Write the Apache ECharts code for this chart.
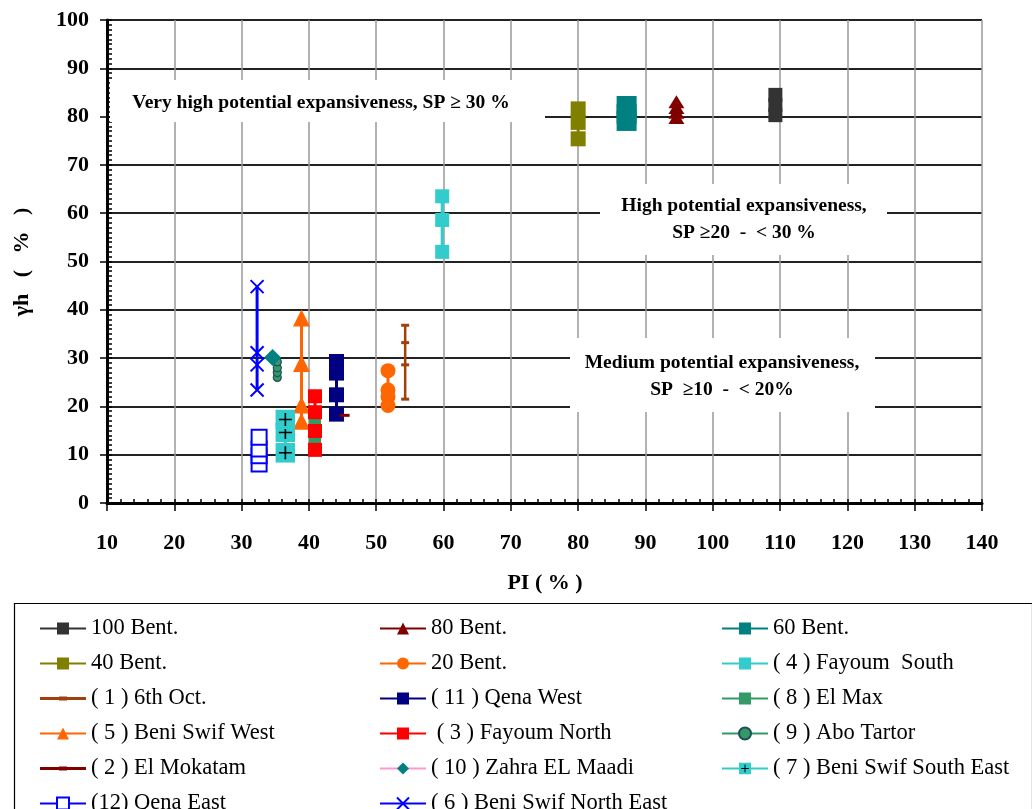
<!DOCTYPE html>
<html>
<head>
<meta charset="utf-8">
<script src="https://cdn.jsdelivr.net/npm/echarts@6/dist/echarts.min.js"></script>
<style>
  html, body { margin: 0; padding: 0; background: #fff; }
  #chart { width: 1032px; height: 809px; }
</style>
</head>
<body>
<div id="chart"></div>
<script>
// Axis ranges (PI % on x, swelling γh % on y)
const xRange = [10, 140];
const xStep = 10;
const yRange = [0, 100];
const yStep = 10;

// Each series: [PI, γh] pairs
const bent100 = [[109.3, 80.3], [109.3, 82.4], [109.3, 84.5]];
const bent80 = [[94.6, 79.8], [94.6, 80.9], [94.6, 81.9], [94.6, 83.1]];
const bent60 = [[87.2, 79.1], [87.2, 80.6], [87.2, 82.2]];
const bent40 = [[80.0, 75.4], [80.0, 78.8], [80.0, 81.6]];
const bent20 = [[51.75, 20.2], [51.75, 22.0], [51.75, 23.4], [51.75, 27.4]];
const fayoumSouth = [[59.8, 52.0], [59.8, 58.6], [59.8, 63.5]];
const sixthOct = [[54.3, 21.5], [54.3, 28.6], [54.3, 33.2], [54.3, 36.8]];
const qenaWest = [[44.1, 18.4], [44.1, 22.4], [44.1, 26.9], [44.1, 29.3]];
const elMax = [[40.9, 13.0], [40.9, 16.8]];
const beniSwifWest = [[38.9, 16.9], [38.9, 20.3], [38.9, 28.9], [38.9, 38.3]];
const fayoumNorth = [[40.9, 11.0], [40.9, 14.9], [40.9, 18.8], [40.9, 22.1]];
const aboTartor = [[35.3, 26.0], [35.3, 27.0], [35.3, 28.0], [35.3, 29.2]];
const elMokatam = [[45.3, 18.15]];
const zahraElMaadi = [[34.6, 30.1]];
const beniSwifSouthEast = [[36.5, 10.4], [36.5, 14.6], [36.5, 17.3]];
const qenaEast = [[32.6, 8.1], [32.6, 9.8], [32.6, 11.2], [32.6, 13.6]];
const beniSwifNorthEast = [[32.3, 23.4], [32.3, 28.6], [32.3, 31.1], [32.3, 44.8]];

// Legend columns (row-major reading order across three columns)
const legendCol1 = ['100 Bent.', '40 Bent.', '( 1 ) 6th Oct.', '( 5 ) Beni Swif West', '( 2 ) El Mokatam', '(12) Qena East'];
const legendCol2 = ['80 Bent.', '20 Bent.', '( 11 ) Qena West', ' ( 3 ) Fayoum North', '( 10 ) Zahra EL Maadi', '( 6 ) Beni Swif North East'];
const legendCol3 = ['60 Bent.', '( 4 ) Fayoum  South', '( 8 ) El Max', '( 9 ) Abo Tartor', '( 7 ) Beni Swif South East'];

const SERIF = "'Liberation Serif', 'Times New Roman', serif";

// Marker shapes
const dashSymbol = 'path://M0,0H10V3H0Z';
const crossSymbol = 'path://M0,0L10,10M10,0L0,10';
const plusBoxSvg = '<svg xmlns="http://www.w3.org/2000/svg" width="40" height="40" viewBox="0 0 20 20">' +
  '<rect width="20" height="20" fill="#33CCCC"/>' +
  '<path d="M3.5 10H16.5M10 3.5V16.5" stroke="#000" stroke-width="1.6"/></svg>';
const plusBoxSymbol = 'image://data:image/svg+xml;charset=utf-8,' + encodeURIComponent(plusBoxSvg);
const dashLegendIcon = 'path://M0,0.6H46V3.4H0Z M19,0H27V4H19Z';

function lineSeries(name, data, color, symbol, size, extra) {
  const s = {
    name: name,
    type: 'line',
    data: data,
    symbol: symbol,
    symbolSize: size,
    showSymbol: true,
    showAllSymbol: true,
    animation: false,
    emphasis: { disabled: true },
    lineStyle: { color: color, width: 3 },
    itemStyle: { color: color }
  };
  return Object.assign(s, extra || {});
}

const series = [
  lineSeries('100 Bent.', bent100, '#333333', 'rect', 14),
  lineSeries('80 Bent.', bent80, '#800000', 'triangle', [16, 13]),
  lineSeries('60 Bent.', bent60, '#008080', 'rect', 20),
  lineSeries('40 Bent.', bent40, '#808000', 'rect', 15),
  lineSeries('20 Bent.', bent20, '#FF6600', 'circle', 15),
  lineSeries('( 4 ) Fayoum  South', fayoumSouth, '#33CCCC', 'rect', 14),
  lineSeries('( 1 ) 6th Oct.', sixthOct, '#A0400B', dashSymbol, [8, 3], { lineStyle: { color: '#A0400B', width: 2.5 } }),
  lineSeries('( 11 ) Qena West', qenaWest, '#000080', 'rect', 15),
  lineSeries('( 8 ) El Max', elMax, '#339966', 'rect', 12),
  lineSeries('( 5 ) Beni Swif West', beniSwifWest, '#FF6600', 'triangle', 17),
  lineSeries(' ( 3 ) Fayoum North', fayoumNorth, '#FF0000', 'rect', 14),
  lineSeries('( 9 ) Abo Tartor', aboTartor, '#339966', 'circle', 8,
    { itemStyle: { color: '#339966', borderColor: '#1F4E5A', borderWidth: 1.2 } }),
  lineSeries('( 2 ) El Mokatam', elMokatam, '#800000', dashSymbol, [10, 3]),
  lineSeries('( 10 ) Zahra EL Maadi', zahraElMaadi, '#008080', 'diamond', 17,
    { lineStyle: { color: '#FF99CC', width: 3 } }),
  lineSeries('( 7 ) Beni Swif South East', beniSwifSouthEast, '#33CCCC', plusBoxSymbol, 20),
  lineSeries('(12) Qena East', qenaEast, '#0000FF', 'emptyRect', 15,
    { itemStyle: { color: '#0000FF', borderWidth: 2 } }),
  lineSeries('( 6 ) Beni Swif North East', beniSwifNorthEast, '#0000FF', crossSymbol, 13,
    { itemStyle: { color: '#0000FF', borderColor: '#0000FF', borderWidth: 2 } })
];

function legendData(names) {
  return names.map(function (n) {
    if (n === '( 1 ) 6th Oct.' || n === '( 2 ) El Mokatam') {
      return { name: n, icon: dashLegendIcon };
    }
    return { name: n };
  });
}

function legendColumn(names, left) {
  return {
    orient: 'vertical',
    left: left,
    top: 617,
    height: 240,
    padding: 0,
    itemWidth: 46,
    itemHeight: 15,
    itemGap: 12,
    selectedMode: false,
    textStyle: { fontFamily: SERIF, fontSize: 22.5, color: '#000', lineHeight: 22 },
    data: legendData(names)
  };
}

const chart = echarts.init(document.getElementById('chart'), null, { renderer: 'canvas' });

chart.setOption({
  backgroundColor: '#fff',
  animation: false,
  grid: { left: 107, right: 50, top: 20, bottom: 306, containLabel: false },
  xAxis: [
    {
      type: 'value', min: xRange[0], max: xRange[1], interval: xStep,
      axisLine: { show: true, onZero: false, lineStyle: { color: '#000', width: 3 } },
      axisTick: { show: true, inside: false, length: 8, lineStyle: { color: '#000', width: 1.5 } },
      axisLabel: { margin: 29, color: '#000', fontFamily: SERIF, fontWeight: 'bold', fontSize: 22 },
      splitLine: { show: true, lineStyle: { color: '#999', width: 1.5 } }
    },
    {
      type: 'value', min: xRange[0], max: xRange[1], interval: xStep, position: 'bottom',
      axisLine: { show: false },
      axisTick: { show: true, inside: true, length: 4, lineStyle: { color: '#000', width: 1.5 } },
      minorTick: { show: true, splitNumber: 5, length: 4, lineStyle: { color: '#000', width: 1.5 } },
      axisLabel: { show: false },
      splitLine: { show: false }
    }
  ],
  yAxis: [
    {
      type: 'value', min: yRange[0], max: yRange[1], interval: yStep,
      axisLine: { show: true, onZero: false, lineStyle: { color: '#000', width: 3 } },
      axisTick: { show: true, inside: false, length: 7, lineStyle: { color: '#000', width: 1.5 } },
      axisLabel: { margin: 18, color: '#000', fontFamily: SERIF, fontWeight: 'bold', fontSize: 22 },
      splitLine: { show: true, lineStyle: { color: '#222', width: 2 } }
    },
    {
      type: 'value', min: yRange[0], max: yRange[1], interval: yStep, position: 'left',
      axisLine: { show: false },
      axisTick: { show: true, inside: true, length: 5, lineStyle: { color: '#000', width: 1.5 } },
      minorTick: { show: true, splitNumber: 10, length: 5, lineStyle: { color: '#000', width: 1.5 } },
      axisLabel: { show: false },
      splitLine: { show: false }
    }
  ],
  legend: [
    legendColumn(legendCol1, 39),
    legendColumn(legendCol2, 379),
    legendColumn(legendCol3, 721)
  ],
  graphic: [
    // legend frame
    { type: 'rect', left: 12, top: 601, shape: { width: 1018, height: 220 },
      style: { fill: 'none', stroke: '#000', lineWidth: 1.2 }, silent: true },
    // axis titles
    { type: 'text', x: 545, y: 583, silent: true,
      style: { text: 'PI ( % )', font: 'bold 22px ' + SERIF, fill: '#000', align: 'center', verticalAlign: 'middle' } },
    { type: 'text', x: 22, y: 262, rotation: Math.PI / 2, silent: true,
      style: { text: 'γh   (   %   )', font: 'bold 22px ' + SERIF, fill: '#000', align: 'center', verticalAlign: 'middle' } },
    // zone annotations
    { type: 'rect', x: 110, y: 80, z: 5, shape: { width: 435, height: 42 }, style: { fill: '#fff' }, silent: true },
    { type: 'text', x: 321, y: 103, z: 6, silent: true,
      style: { text: 'Very high potential expansiveness, SP ≥ 30 %', font: 'bold 19.5px ' + SERIF, fill: '#000', align: 'center', verticalAlign: 'middle' } },
    { type: 'rect', x: 600, y: 184, z: 5, shape: { width: 287, height: 71 }, style: { fill: '#fff' }, silent: true },
    { type: 'text', x: 744, y: 219, z: 6, silent: true,
      style: { text: 'High potential expansiveness,\nSP ≥20  -  < 30 %', font: 'bold 19.5px ' + SERIF, lineHeight: 27, fill: '#000', align: 'center', verticalAlign: 'middle' } },
    { type: 'rect', x: 570, y: 338, z: 5, shape: { width: 305, height: 74 }, style: { fill: '#fff' }, silent: true },
    { type: 'text', x: 722, y: 376, z: 6, silent: true,
      style: { text: 'Medium potential expansiveness,\nSP  ≥10  -  < 20%', font: 'bold 19.5px ' + SERIF, lineHeight: 27, fill: '#000', align: 'center', verticalAlign: 'middle' } }
  ],
  series: series
});
</script>
</body>
</html>
